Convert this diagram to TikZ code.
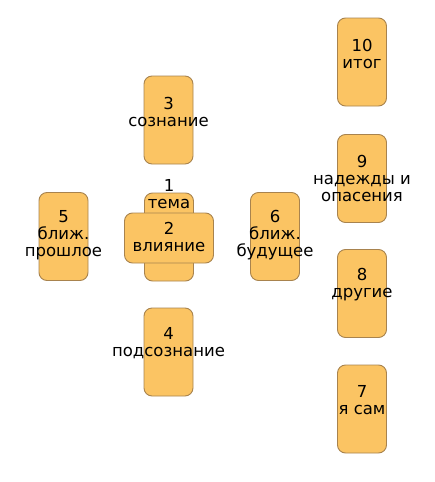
\documentclass[tikz,border=0pt]{standalone}
\usepackage{fontspec}
\setmainfont{DejaVu Sans}
\definecolor{cardfill}{HTML}{FBC463}
\definecolor{carddraw}{HTML}{A8834E}
\begin{document}
\begin{tikzpicture}[x=1pt,y=-1pt,
  card/.style={draw=carddraw,fill=cardfill,line width=0.9pt,rounded corners=8pt,
    minimum width=49pt,minimum height=88pt,inner sep=0pt},
  hcard/.style={card,minimum width=89pt,minimum height=50pt},
  lbl/.style={align=center,inner sep=0pt,font=\fontsize{16.5}{17}\selectfont}]
\useasboundingbox (0,0) rectangle (434,482);
\node[card] (c10) at (362,62) {};
\node[card] (c9) at (362,178.5) {};
\node[card] (c8) at (362,293.5) {};
\node[card] (c7) at (362,409) {};
\node[card] (c3) at (168.5,120) {};
\node[card] (c4) at (168.5,352) {};
\node[card] (c5) at (63.5,236.5) {};
\node[card] (c6) at (275,236.5) {};
\node[card] (c1) at (169,237) {};
\node[lbl] (t1) at (169,194.5) {1\\тема};
\node[hcard] (c2) at (169,238) {};
\node[lbl] (t2) at (169,236.5) {2\\влияние};
\node[lbl] (t10) at (362,54) {10\\итог};
\node[lbl] (t9) at (362,178.5) {9\\надежды и\\опасения};
\node[lbl] (t8) at (362,285) {8\\другие};
\node[lbl] (t7) at (362,400) {7\\я сам};
\node[lbl] (t3) at (168.5,111.5) {3\\сознание};
\node[lbl] (t4) at (168.5,343.5) {4\\подсознание};
\node[lbl] (t5) at (63.5,235.5) {5\\ближ.\\прошлое};
\node[lbl] (t6) at (275,235.5) {6\\ближ.\\будущее};
\end{tikzpicture}
\end{document}
